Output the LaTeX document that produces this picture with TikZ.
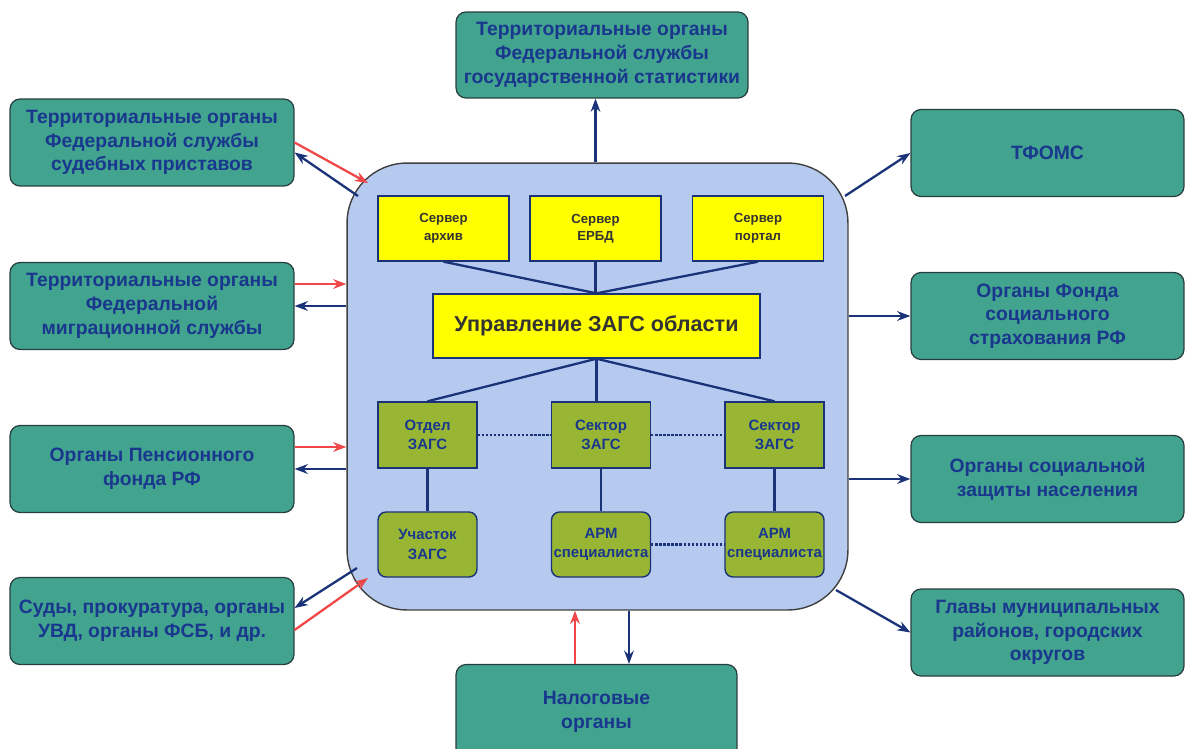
\documentclass[tikz,border=0pt]{standalone}
\usepackage{fontspec}
\setmainfont{Liberation Sans}
\usetikzlibrary{arrows.meta}

\definecolor{tealbox}{RGB}{66,163,143}
\definecolor{tealborder}{RGB}{40,62,62}
\definecolor{orgtext}{RGB}{25,55,140}
\definecolor{zagsfill}{RGB}{182,202,240}
\definecolor{servfill}{RGB}{255,255,0}
\definecolor{olivebox}{RGB}{152,182,52}
\definecolor{linkblue}{RGB}{25,50,120}
\definecolor{linkred}{RGB}{240,72,72}

\begin{document}
\begin{tikzpicture}[
        x=0.02cm, y=-0.02cm, % 1 единица = 1 пиксель исходной схемы
        org/.style={draw=tealborder, fill=tealbox, rounded corners=0.2cm, line width=0.7pt,
                text=orgtext, align=center, font=\bfseries\fontsize{11}{13.5}\selectfont,
                minimum height=1.74cm, inner sep=2pt}, % Внешние органы
        server/.style={draw=linkblue, fill=servfill, line width=0.8pt, align=center,
                text=black!80, font=\bfseries\fontsize{7.5}{10}\selectfont,
                minimum width=2.62cm, minimum height=1.3cm},
        otdel/.style={draw=linkblue, fill=olivebox, line width=0.8pt, align=center,
                text=orgtext, font=\bfseries\fontsize{8.5}{11}\selectfont,
                minimum width=1.98cm, minimum height=1.32cm, inner sep=1pt},
        arm/.style={otdel, rounded corners=0.16cm, minimum height=1.3cm},
        link/.style={draw=linkblue, line width=1.3pt},
        dots/.style={link, densely dotted},
        bluearr/.style={draw=linkblue, line width=1.3pt, -{Stealth[length=7.5pt,width=5.5pt]}},
        redarr/.style={draw=linkred, line width=1.3pt, -{Stealth[length=7.5pt,width=5.5pt]}},
    ]

    \useasboundingbox (0,0) rectangle (1187,748);
    \clip (0,0) rectangle (1187,748);

    % Центральный блок
    \node[draw=black!75, fill=zagsfill, rounded corners=1.2cm, line width=0.8pt,
        minimum width=10.02cm, minimum height=8.94cm] (zags) at (597.5,386.5) {};

    \node[server] (s1) at (443.5,228.5) {Сервер\\архив};
    \node[server] (s2) at (595.5,228.5) {Сервер\\ЕРБД};
    \node[server] (s3) at (758,228.5) {Сервер\\портал};

    \node[server, minimum width=6.54cm, minimum height=1.28cm,
        font=\bfseries\fontsize{12.3}{15}\selectfont] (upr) at (596.5,326) {Управление ЗАГС области};

    \node[otdel] (o1) at (427.5,435) {Отдел\\ЗАГС};
    \node[otdel] (o2) at (601,435) {Сектор\\ЗАГС};
    \node[otdel] (o3) at (774.5,435) {Сектор\\ЗАГС};

    \node[arm] (a1) at (427.5,544.5) {Участок\\ЗАГС};
    \node[arm] (a2) at (601,544.5) {АРМ\\специалиста};
    \node[arm] (a3) at (774.5,544.5) {АРМ\\специалиста};

    \draw[link] (s1.south) -- (upr.north);
    \draw[link] (s2.south) -- (s2.south |- upr.north);
    \draw[link] (s3.south) -- (upr.north);
    \draw[link] (upr.south) -- (o1.north);
    \draw[link] (upr.south) -- (upr.south |- o2.north);
    \draw[link] (upr.south) -- (o3.north);
    \foreach \i in {1,2,3} {
        \draw[link] (o\i.south) -- (a\i.north);
    }
    \draw[dots] (o1.east) -- (o2.west);
    \draw[dots] (o2.east) -- (o3.west);
    \draw[dots] (a2.east) -- (a3.west);

    % Внешние органы
    \node[org, minimum width=5.84cm, minimum height=1.72cm] (stat) at (602,55)
        {Территориальные органы\\Федеральной службы\\государственной статистики};

    \node[org, minimum width=5.68cm] (l1) at (152,142.5)
        {Территориальные органы\\Федеральной службы\\судебных приставов};
    \node[org, minimum width=5.68cm] (l2) at (152,306)
        {Территориальные органы\\Федеральной\\миграционной службы};
    \node[org, minimum width=5.68cm] (l3) at (152,469)
        {Органы Пенсионного\\фонда РФ};
    \node[org, minimum width=5.68cm] (l4) at (152,621)
        {Суды, прокуратура, органы\\УВД, органы ФСБ, и др.};

    \node[org, minimum width=5.46cm] (r1) at (1047.5,153) {ТФОМС};
    \node[org, minimum width=5.46cm] (r2) at (1047.5,316)
        {Органы Фонда\\социального\\страхования РФ};
    \node[org, minimum width=5.46cm] (r3) at (1047.5,479)
        {Органы социальной\\защиты населения};
    \node[org, minimum width=5.46cm] (r4) at (1047.5,632.5)
        {Главы муниципальных\\районов, городских\\округов};

    \node[org, minimum width=5.62cm, minimum height=1.9cm] (nalog) at (596.5,712)
        {Налоговые\\органы};

    % Точки на скруглённых углах центрального блока
    \coordinate (c1r) at (368,183);
    \coordinate (c1b) at (358,196);
    \coordinate (c4b) at (357,568);
    \coordinate (c4r) at (368,578);
    \coordinate (c5) at (845,196);
    \coordinate (c8) at (836,590);

    % Связи
    \draw[bluearr] (zags.north -| s2.north) -- (s2.north |- stat.south);

    \draw[redarr] (l1.east) -- (c1r);
    \draw[bluearr] (c1b) -- ([yshift=-0.2cm]l1.east);
    \draw[redarr] ([yshift=0.44cm]l2.east) -- ([yshift=0.44cm]l2.east -| zags.west);
    \draw[bluearr] (zags.west |- l2.east) -- (l2.east);
    \draw[redarr] ([yshift=0.44cm]l3.east) -- ([yshift=0.44cm]l3.east -| zags.west);
    \draw[bluearr] (zags.west |- l3.east) -- (l3.east);
    \draw[bluearr] (c4b) -- ([yshift=0.26cm]l4.east);
    \draw[redarr] ([yshift=-0.18cm]l4.east) -- (c4r);

    \draw[redarr] ([xshift=-0.43cm]nalog.north) -- ([xshift=-0.43cm]nalog.north |- zags.south);
    \draw[bluearr] ([xshift=0.65cm]nalog.north |- zags.south) -- ([xshift=0.65cm]nalog.north);

    \draw[bluearr] (c5) -- (r1.west);
    \draw[bluearr] (zags.east |- r2.west) -- (r2.west);
    \draw[bluearr] (zags.east |- r3.west) -- (r3.west);
    \draw[bluearr] (c8) -- (r4.west);
\end{tikzpicture}
\end{document}
